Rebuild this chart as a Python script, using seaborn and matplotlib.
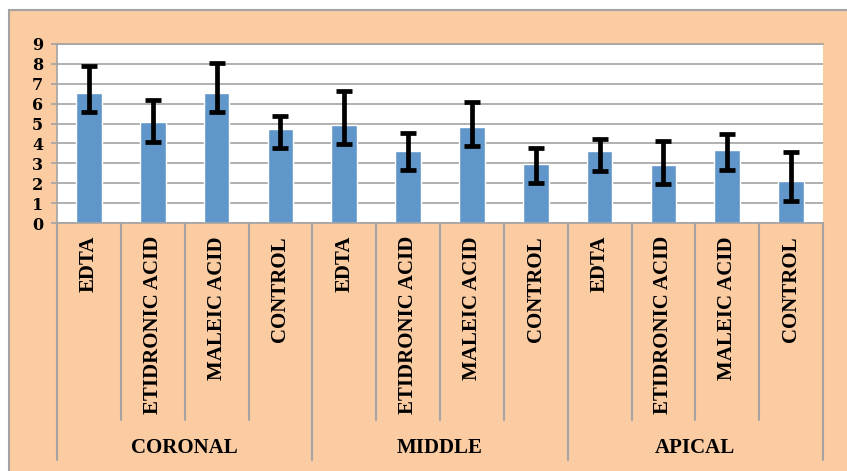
import numpy as np
import pandas as pd
import matplotlib
matplotlib.use("Agg")
import matplotlib.pyplot as plt
import matplotlib.transforms as mtransforms
from matplotlib.patches import Rectangle
import seaborn as sns

# data
groups = ["CORONAL", "MIDDLE", "APICAL"]
treatments = ["EDTA", "ETIDRONIC ACID", "MALEIC ACID", "CONTROL"]
values = [6.55, 5.07, 6.55, 4.74,
          4.92, 3.61, 4.84, 2.99,
          3.61, 2.92, 3.66, 2.10]
upper = [7.88, 6.20, 8.06, 5.38,
         6.63, 4.52, 6.07, 3.78,
         4.22, 4.12, 4.48, 3.56]
lower = [5.58, 4.08, 5.58, 3.76,
         3.95, 2.64, 3.85, 2.00,
         2.62, 1.95, 2.65, 1.13]
yticks = list(range(10))

peach = "#FBCBA1"
bar_col = "#6096C9"
grid_col = "#A3A3A3"

df = pd.DataFrame({
    "group": np.repeat(groups, len(treatments)),
    "treatment": treatments * len(groups),
    "value": values,
})
df["key"] = df["group"] + " " + df["treatment"]

sns.set_theme(style="white")
plt.rcParams["font.family"] = ["Liberation Serif", "DejaVu Serif"]
plt.rcParams["text.color"] = "black"
plt.rcParams["ytick.labelcolor"] = "black"

W, H = 847, 471
fig = plt.figure(figsize=(W / 100, H / 100), dpi=100, facecolor="white")
fig.patches.append(Rectangle((9 / W, -0.1), 1.2, 1 - 10 / H + 0.1,
                             transform=fig.transFigure, facecolor=peach,
                             edgecolor=grid_col, linewidth=1.5, zorder=-10))

ax_l, ax_r, ax_t, ax_b = 57, 823, 44, 223
ax = fig.add_axes([ax_l / W, 1 - ax_b / H, (ax_r - ax_l) / W, (ax_b - ax_t) / H])
ax.set_facecolor("white")

sns.barplot(data=df, x="key", y="value", order=df["key"], color=bar_col,
            saturation=1, width=0.4, errorbar=None, ax=ax, zorder=2)

x = np.arange(len(df))
yerr = [np.array(values) - np.array(lower), np.array(upper) - np.array(values)]
ax.errorbar(x, values, yerr=yerr, fmt="none", ecolor="black",
            elinewidth=3.4, capsize=5.5, capthick=3.4, zorder=3)

ax.set_ylim(0, 9)
ax.set_xlim(-0.5, len(df) - 0.5)
ax.set_yticks(yticks)
ax.yaxis.grid(True, color=grid_col, linewidth=1.2)
ax.set_axisbelow(True)
ax.tick_params(axis="y", length=4, width=1.2, color=grid_col, pad=6, left=True,
               labelcolor="black")
for lab in ax.get_yticklabels():
    lab.set_fontfamily("DejaVu Serif")
    lab.set_fontweight("bold")
    lab.set_fontsize(11.5)
ax.set_xticks([])
ax.set_xlabel("")
ax.set_ylabel("")
for side in ["left", "bottom", "top"]:
    ax.spines[side].set_color(grid_col)
    ax.spines[side].set_linewidth(1.2)
ax.spines["right"].set_visible(False)

# hierarchical category axis below the plot
trans = mtransforms.blended_transform_factory(ax.transData, ax.transAxes)
ah = ax_b - ax_t
inner_end = -(420 - ax_b) / ah
group_end = -(460 - ax_b) / ah
n_t = len(treatments)
for i in range(len(df) + 1):
    end = group_end if i % n_t == 0 else inner_end
    ax.plot([i - 0.5, i - 0.5], [0, end], color=grid_col, lw=1.5,
            transform=trans, clip_on=False)

for i, t in enumerate(df["treatment"]):
    ax.text(i, -(236 - ax_b) / ah, t, rotation=90, ha="center", va="top",
            fontsize=15, fontweight="bold", color="black", transform=trans)

for g, name in enumerate(groups):
    ax.text(g * n_t + (n_t - 1) / 2, -(448 - ax_b) / ah, name, ha="center",
            va="center", fontsize=15, fontweight="bold", color="black",
            transform=trans)

fig.savefig("out.png", dpi=100, facecolor=fig.get_facecolor())
